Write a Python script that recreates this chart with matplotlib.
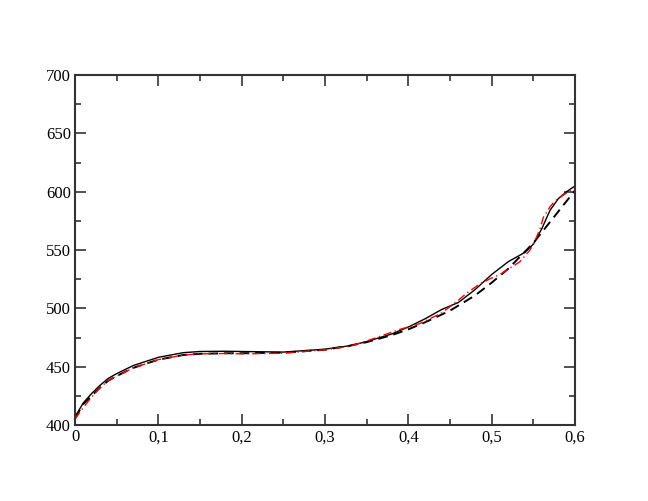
import matplotlib
matplotlib.use("Agg")
import matplotlib.pyplot as plt
from matplotlib.ticker import MultipleLocator, FuncFormatter

# Data
x_solid = [0.0, 0.005, 0.01, 0.02, 0.03, 0.04, 0.05, 0.07, 0.1, 0.13, 0.15, 0.18, 0.2, 0.25, 0.3, 0.33,
           0.35, 0.38, 0.4, 0.42, 0.44, 0.46, 0.48, 0.5, 0.52, 0.54, 0.55, 0.56, 0.57, 0.58, 0.59, 0.6]
y_solid = [407, 413, 419, 427, 434, 440, 444, 451, 458, 462, 463, 463.2, 463, 462.5, 465, 468,
           471.5, 478, 484, 491, 499, 505, 516, 529, 540, 548, 555, 568, 584, 594, 600, 605]

x_dash = [0.0, 0.005, 0.01, 0.02, 0.03, 0.04, 0.05, 0.07, 0.1, 0.13, 0.15, 0.18, 0.2, 0.25, 0.3, 0.33,
          0.35, 0.38, 0.4, 0.42, 0.45, 0.48, 0.5, 0.52, 0.55, 0.57, 0.59, 0.6]
y_dash = [406, 412, 418, 425, 432, 438, 442, 449, 456, 460, 461, 461.5, 461.5, 462, 464.5, 468,
          471, 477, 482, 488, 498, 511, 522, 534, 556, 574, 592, 601]

x_red = [0.0, 0.005, 0.01, 0.02, 0.03, 0.04, 0.05, 0.07, 0.1, 0.13, 0.15, 0.18, 0.2, 0.25, 0.3, 0.33,
         0.35, 0.37, 0.39, 0.414, 0.44, 0.46, 0.47, 0.486, 0.5, 0.51, 0.534, 0.546, 0.552, 0.558,
         0.562, 0.57, 0.576, 0.59, 0.6]
y_red = [405, 410, 415, 424, 432, 438, 442, 449, 456, 460, 461, 461.3, 461, 461.5, 464.5, 467.5,
         472, 477, 482, 487, 496, 507, 513, 521, 526, 529, 540, 550, 558, 568,
         578, 587, 592, 599, 604]

x_ticks = [0, 0.1, 0.2, 0.3, 0.4, 0.5, 0.6]
y_ticks = [400, 450, 500, 550, 600, 650, 700]

plt.rcParams['font.family'] = ['Liberation Serif', 'DejaVu Serif']

fig = plt.figure(figsize=(6.48, 5.01), dpi=100)
ax = fig.add_axes([75/648, 76/501, 500/648, 350/501])

ax.plot(x_solid, y_solid, color='black', lw=1.0, ls='-')
ax.plot(x_dash, y_dash, color='black', lw=1.4, ls=(0, (5, 3)))
ax.plot(x_red, y_red, color='red', lw=1.0, ls=(0, (6, 2.5, 1, 2.5)))

ax.set_xlim(0, 0.6)
ax.set_ylim(400, 700)
ax.set_xticks(x_ticks)
ax.set_yticks(y_ticks)
ax.xaxis.set_minor_locator(MultipleLocator(0.05))
ax.yaxis.set_minor_locator(MultipleLocator(25))

def fmt_x(v, pos):
    s = ('%g' % round(v, 3))
    return s.replace('.', ',')

ax.xaxis.set_major_formatter(FuncFormatter(fmt_x))
ax.yaxis.set_major_formatter(FuncFormatter(lambda v, p: '%d' % v))

ax.tick_params(which='both', direction='in', top=True, right=True, labelsize=12, colors='#333333',
               labelcolor='black')
ax.tick_params(which='major', length=8, width=1.2, pad=3)
ax.tick_params(which='minor', length=4, width=1.2)
for sp in ax.spines.values():
    sp.set_linewidth(1.5)
    sp.set_color('#333333')

fig.savefig('out.png', dpi=100)
